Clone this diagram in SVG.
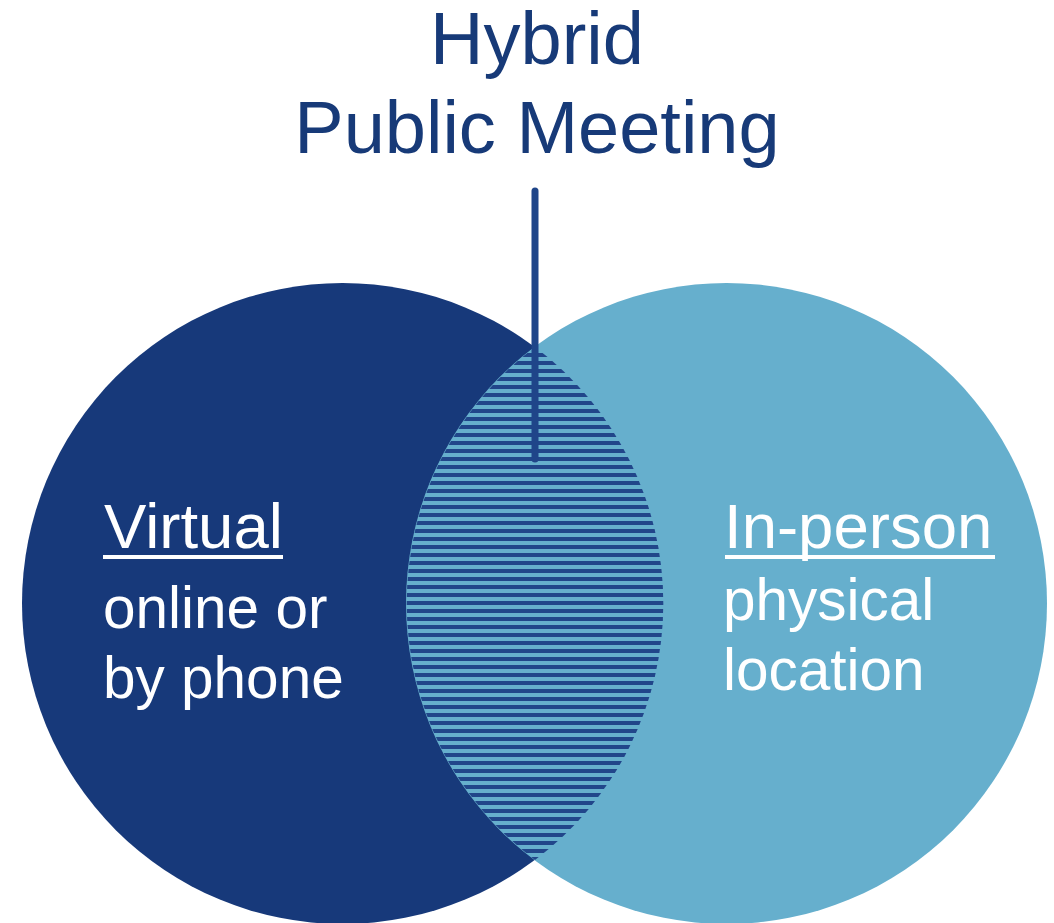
<svg xmlns="http://www.w3.org/2000/svg" width="1054" height="923" viewBox="0 0 1054 923">
  <style>
    .title { font-family: "Liberation Sans", Arial, sans-serif; font-size: 74px; fill: #173A78; text-anchor: middle; }
    .head { font-family: "Liberation Sans", Arial, sans-serif; font-size: 63.5px; fill: #FFFFFF; }
    .body { font-family: "Liberation Sans", Arial, sans-serif; font-size: 58.5px; fill: #FFFFFF; }
    .uline { fill: #FFFFFF; }
    .conn { stroke: #1F4589; stroke-width: 7; stroke-linecap: round; fill: none; }
  </style>
  <defs>
    <pattern id="hatch" patternUnits="userSpaceOnUse" x="0" y="0" width="8" height="8">
      <rect x="0" y="0" width="8" height="8" fill="#66AFCD"/>
      <rect x="0" y="1" width="8" height="4" fill="#21468A"/>
    </pattern>
  </defs>
  <rect x="0" y="0" width="1054" height="923" fill="#FFFFFF"/>

  <g id="node-virtual">
    <circle cx="342.5" cy="603.5" r="320.5" fill="#17397A"/>
  </g>
  <g id="node-inperson">
    <circle cx="726.5" cy="603.5" r="320.5" fill="#66AFCD"/>
  </g>
  <g id="node-hybrid">
    <path d="M535,347 A320.5,320.5 0 0 0 535,860 A320.5,320.5 0 0 0 535,347 Z" fill="url(#hatch)"/>
    <text class="title" x="537" y="64">Hybrid</text>
    <text class="title" x="537" y="153">Public Meeting</text>
  </g>

  <g id="connectors">
    <line class="conn" x1="535" y1="191" x2="535" y2="459"/>
  </g>

  <g id="label-virtual">
    <text class="head" x="104" y="548">Virtual</text>
    <rect class="uline" x="103" y="555" width="180" height="4"/>
    <text class="body" x="103" y="628">online or</text>
    <text class="body" x="103" y="698">by phone</text>
  </g>
  <g id="label-inperson">
    <text class="head" x="724" y="548">In-person</text>
    <rect class="uline" x="725" y="555" width="270" height="4"/>
    <text class="body" x="723" y="620">physical</text>
    <text class="body" x="723" y="690">location</text>
  </g>
</svg>
